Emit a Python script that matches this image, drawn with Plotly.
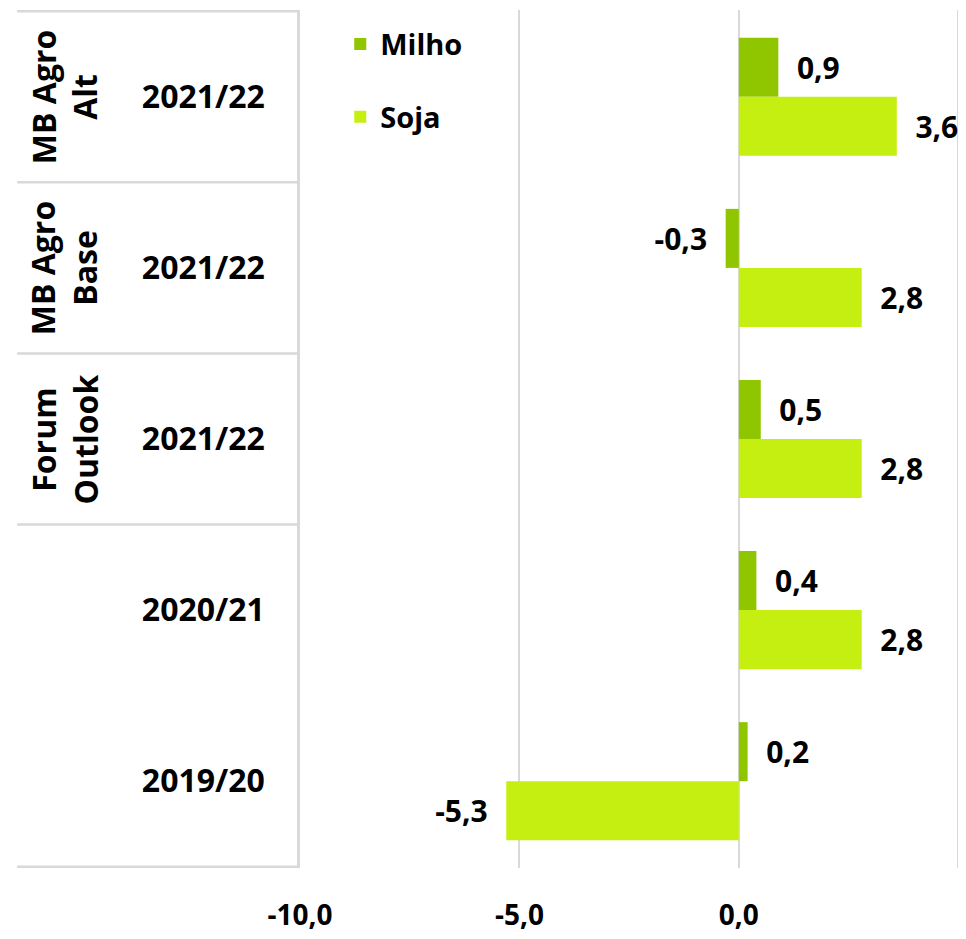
import plotly.graph_objects as go

# ---- data ----
groups = ["MB Agro<br>Alt", "MB Agro<br>Base", "Forum<br>Outlook", "", ""]
seasons = ["2021/22", "2021/22", "2021/22", "2020/21", "2019/20"]
milho = [0.9, -0.3, 0.5, 0.4, 0.2]
soja = [3.6, 2.8, 2.8, 2.8, -5.3]
x_tick_vals = [-10, -5, 0, 5]
x_tick_labels = ["-10,0", "-5,0", "0,0", "5,0"]

cats = [f"c{i}" for i in range(len(seasons))]
NB = "\u00a0"


def fmt(v):
    s = f"{v:.1f}".replace(".", ",")
    return NB * 2 + s if v >= 0 else s + NB * 2


FONT = "Open Sans"
milho_color = "#8fc600"
soja_color = "#c4ef10"

fig = go.Figure()
fig.add_trace(go.Bar(
    y=cats, x=milho, orientation="h", name="Milho",
    marker=dict(color=milho_color, line=dict(width=0)),
    text=[fmt(v) for v in milho], textposition="outside",
    textfont=dict(family=FONT, size=30, color="black", weight="bold"),
    constraintext="none", cliponaxis=False, legendgroup="m",
))
fig.add_trace(go.Bar(
    y=cats, x=soja, orientation="h", name="Soja",
    marker=dict(color=soja_color, line=dict(width=0)),
    text=[fmt(v) for v in soja], textposition="outside",
    textfont=dict(family=FONT, size=30, color="black", weight="bold"),
    constraintext="none", cliponaxis=False, legendgroup="s",
))

grid_col = "#d9d9d9"
shapes = []
# table dividers (group boundaries)
bounds = [-0.5] + [i - 0.5 for i in range(1, len(groups)) if groups[i] != groups[i - 1]] + [len(groups) - 0.5]
for b in bounds:
    shapes.append(dict(type="line", xref="paper", yref="y", x0=-0.4286, x1=0, y0=b, y1=b,
                       line=dict(color=grid_col, width=2.5)))

annotations = []
for i, g in enumerate(groups):
    if g:
        annotations.append(dict(text=g, xref="paper", yref="y", x=-0.357, y=i, showarrow=False,
                                textangle=-90, align="center", xanchor="center", yanchor="middle",
                                font=dict(family=FONT, size=32, color="black", weight="bold")))

fig.update_layout(
    width=958, height=931,
    margin=dict(l=292, r=6, t=2, b=71),
    paper_bgcolor="white", plot_bgcolor="white",
    barmode="group", bargap=0.31, bargroupgap=0,
    font=dict(family=FONT, color="black"),
    showlegend=True,
    legend=dict(x=0.061, y=0.99, xanchor="left", yanchor="top",
                traceorder="grouped", tracegroupgap=32,
                font=dict(family=FONT, size=29, color="black", weight="bold"),
                bgcolor="rgba(0,0,0,0)"),
    xaxis=dict(range=[-10, 5.04], tickvals=x_tick_vals, ticktext=x_tick_labels,
               showgrid=True, gridcolor=grid_col, gridwidth=2, zeroline=False,
               showline=False, ticks="", ticklabelstandoff=28,
               tickfont=dict(family=FONT, size=28, color="black", weight="bold")),
    yaxis=dict(type="category", categoryorder="array", categoryarray=cats,
               tickvals=cats, ticktext=seasons, autorange="reversed",
               showgrid=False, zeroline=False, showline=True, linecolor=grid_col, linewidth=2.5,
               ticks="", ticklabelstandoff=26,
               tickfont=dict(family=FONT, size=32, color="black", weight="bold")),
    shapes=shapes, annotations=annotations,
)

fig.write_html("out.html")
